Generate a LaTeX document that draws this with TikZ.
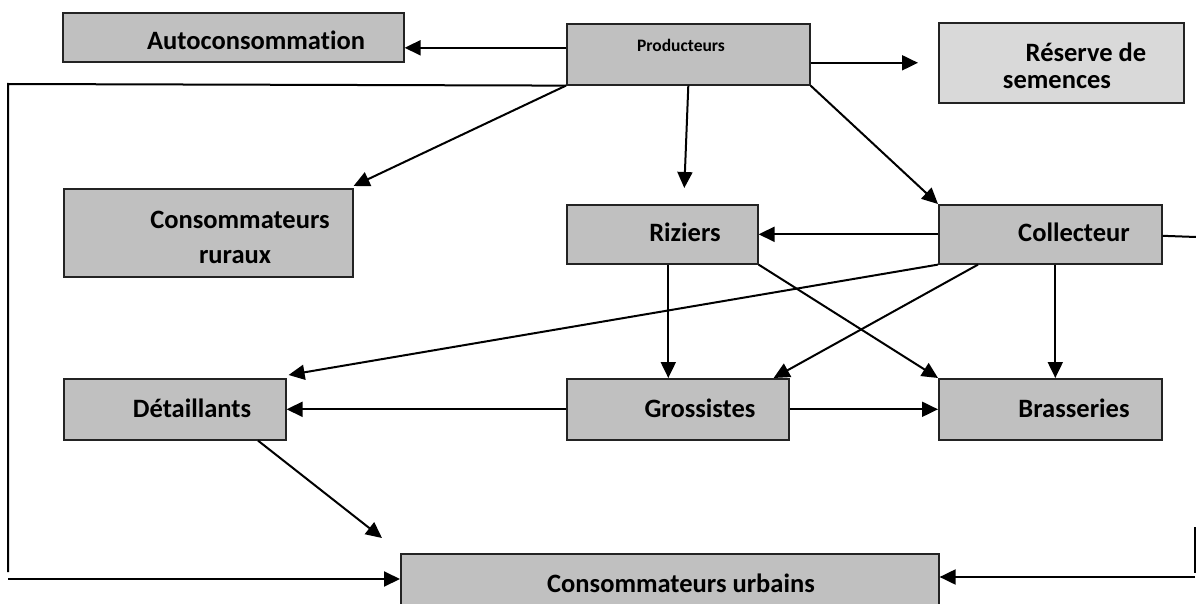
\documentclass[tikz,border=0pt]{standalone}
\usepackage{fontspec}
\setmainfont[Ligatures=NoCommon]{Carlito}
\usetikzlibrary{arrows.meta,calc}
\definecolor{boxgray}{RGB}{192,192,192}
\definecolor{palegray}{RGB}{217,217,217}
\definecolor{edgegray}{RGB}{35,35,35}

\begin{document}
\begin{tikzpicture}[x=1pt,y=-1pt,
  box/.style={draw=edgegray, line width=1.6pt, fill=boxgray, anchor=north west, inner sep=0pt},
  lbl/.style={font=\bfseries\fontsize{26.5}{31}\selectfont, inner sep=0pt, anchor=center},
  smalllbl/.style={font=\bfseries\fontsize{17.5}{20}\selectfont, inner sep=0pt, anchor=center},
  flow/.style={line width=2pt, -{Triangle[length=16pt,width=15pt]}},
  link/.style={line width=2pt}]
\useasboundingbox (0,0) rectangle (1196,604);

% boxes
\node[box, minimum width=341pt, minimum height=49pt] (auto) at (62,12) {};
\node[box, minimum width=243pt, minimum height=61pt] (prod) at (566,23) {};
\node[box, fill=palegray, minimum width=245pt, minimum height=80pt] (res) at (938,22) {};
\node[box, minimum width=289pt, minimum height=88pt] (rur) at (63,188) {};
\node[box, minimum width=191pt, minimum height=59pt] (riz) at (566,204) {};
\node[box, minimum width=223pt, minimum height=59pt] (col) at (938,204) {};
\node[box, minimum width=222pt, minimum height=61pt] (det) at (63,378) {};
\node[box, minimum width=222pt, minimum height=61pt] (gro) at (566,378) {};
\node[box, minimum width=223pt, minimum height=61pt] (bra) at (938,378) {};
\node[box, minimum width=538pt, minimum height=70pt] (urb) at (400,553) {};

% labels
\node[lbl] (tauto) at (256,40) {Autoconsommation};
\node[smalllbl] (tprod) at (681,45) {Producteurs};
\node[lbl] (tres1) at (1086,52) {Réserve de};
\node[lbl] (tres2) at (1057,82) {semences};
\node[lbl] (trur1) at (240,220) {Consommateurs};
\node[lbl] (trur2) at (235,257) {ruraux};
\node[lbl] (triz) at (685,232) {Riziers};
\node[lbl] (tcol) at (1074,232) {Collecteur};
\node[lbl] (tdet) at (192,408) {Détaillants};
\node[lbl] (tgro) at (700,408) {Grossistes};
\node[lbl] (tbra) at (1074,408) {Brasseries};
\node[lbl] (turb) at (681,583) {Consommateurs urbains};

% free ends of the long side routes
\coordinate (lt) at (8,84);
\coordinate (lb) at (8,572);
\coordinate (lb2) at (8,579);
\coordinate (rt) at (1196,237);
\coordinate (rm) at (1195,527);
\coordinate (rb) at (1195,573);
\coordinate (rb2) at (1195,577);

% connectors from the producers
\draw[flow] ($(prod.west)+(0,-6.5)$) coordinate (p1) -- (p1 -| auto.east);
\draw[flow] ($(prod.east)+(0,8.5)$) coordinate (p2) -- ($(p2 -| res.west)+(-20,0)$);
\draw[flow] (prod.south west) -- ($(rur.north east)+(0,-2)$);
\draw[flow] (prod.south) -- ($(prod.south |- riz.north)+(-4,-16)$);
\draw[flow] (prod.south east) -- (col.north west);
\draw[link] (prod.south west) -- (lt) -- (lb);
\draw[flow] (lb2) -- (lb2 -| urb.west);

% connectors from the collector
\draw[flow] (col.west) -- (col.west -| riz.east);
\draw[flow] (col.south west) -- ($(det.north east)+(2,-3)$);
\draw[flow] ($(col.south west)+(40,0)$) -- ($(gro.north east)+(-16,0)$);
\draw[flow] ($(col.south)+(5,0)$) coordinate (c1) -- (c1 |- bra.north);
\draw[link] ($(col.east)+(0,1.5)$) -- (rt);
\draw[link] (rm) -- (rb);
\draw[flow] (rb2) -- (rb2 -| urb.east);

% connectors from the rice mills
\draw[flow] ($(riz.south)+(6,0)$) coordinate (r1) -- (r1 |- gro.north);
\draw[flow] (riz.south east) -- (bra.north west);

% connectors from the wholesalers and retailers
\draw[flow] (gro.west) -- (det.east);
\draw[flow] (gro.east) -- (bra.west);
\draw[flow] ($(det.south west)+(195,0)$) -- ($(urb.north west)+(-18,-15)$);
\end{tikzpicture}
\end{document}
